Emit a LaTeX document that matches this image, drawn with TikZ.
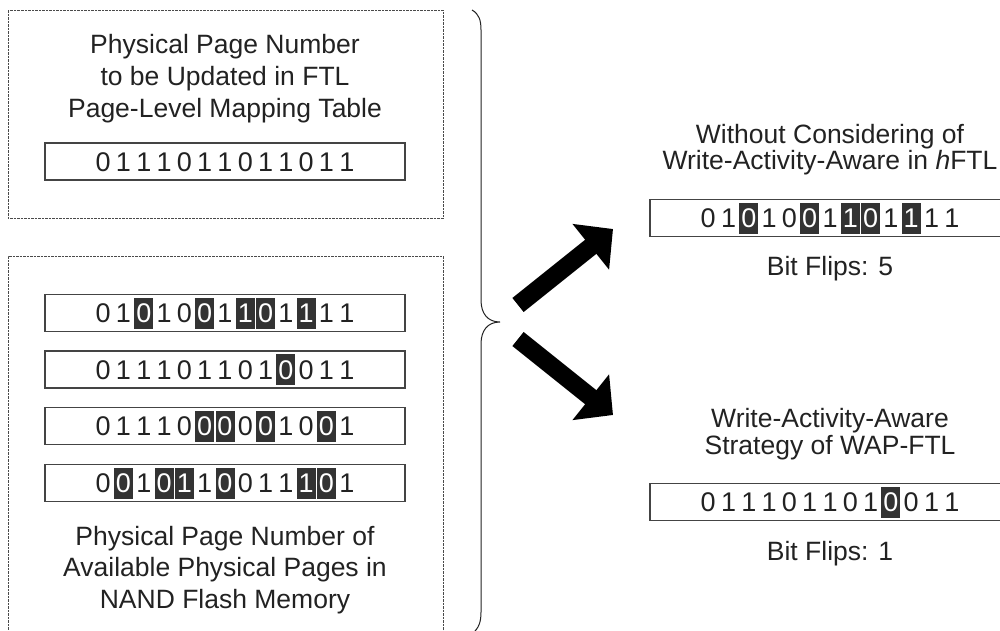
\documentclass[tikz,border=0pt]{standalone}
\usepackage{fontspec}
\setmainfont{Liberation Sans}
\usetikzlibrary{arrows.meta}

\definecolor{ink}{HTML}{222222}
\definecolor{flipink}{HTML}{333333}
\definecolor{frameink}{HTML}{444444}
\definecolor{dotink}{HTML}{4A4A4A}

\tikzset{
  lbl/.style={anchor=base, inner sep=0pt, text=ink, font=\fontsize{26.5}{32}\selectfont},
  bitrow/.style={draw=frameink, line width=1.1pt, minimum width=360pt, minimum height=37pt, inner sep=0pt},
  region/.style={draw=dotink, line width=0.8pt, dash pattern=on 2.5pt off 1pt},
  bitdigit/.style={anchor=base, inner sep=0pt, text=ink, font=\fontsize{27}{30}\selectfont},
  bigarrow/.style={line width=18pt, black, -{Triangle[width=57pt,length=28.5pt]}},
  bracket/.style={draw=ink, line width=1pt}
}

% #1 name, #2 centre x, #3 centre y, #4 list of digit/flipped pairs
\newcommand\bitstring[4]{%
  \node[bitrow] (#1) at (#2,#3) {};
  \foreach \d/\h [count=\i from 0] in {#4} {
    \pgfmathsetmacro\dx{#2+(\i-6)*20.3}
    \ifnum\h=1
      \fill[flipink] (\dx-9.5,#3-15.5) rectangle (\dx+9.5,#3+15.5);
      \node[bitdigit,text=white] (#1-\i) at (\dx,#3+9.8) {\d};
    \else
      \node[bitdigit] (#1-\i) at (\dx,#3+9.8) {\d};
    \fi
  }
}

\begin{document}
\begin{tikzpicture}[x=1pt,y=-1pt]
\useasboundingbox (0,0) rectangle (1000,630);

% dotted regions on the left
\draw[region] (8,10) rectangle (443,218);
\draw[region] (8,640) -- (8,256) -- (443,256) -- (443,640);

% page to be updated
\node[lbl] (t1) at (225,53.5) {Physical Page Number};
\node[lbl] (t2) at (225,85.3) {to be Updated in FTL};
\node[lbl] (t3) at (225,117.3) {Page-Level Mapping Table};
\bitstring{target}{225}{161.5}{0/0,1/0,1/0,1/0,0/0,1/0,1/0,0/0,1/0,1/0,0/0,1/0,1/0}

% available physical pages
\bitstring{cand1}{225}{313}{0/0,1/0,0/1,1/0,0/0,0/1,1/0,1/1,0/1,1/0,1/1,1/0,1/0}
\bitstring{cand2}{225}{369.5}{0/0,1/0,1/0,1/0,0/0,1/0,1/0,0/0,1/0,0/1,0/0,1/0,1/0}
\bitstring{cand3}{225}{426}{0/0,1/0,1/0,1/0,0/0,0/1,0/1,0/0,0/1,1/0,0/0,0/1,1/0}
\bitstring{cand4}{225}{483}{0/0,0/1,1/0,0/1,1/1,1/0,0/1,0/0,1/0,1/0,1/1,0/1,1/0}
\node[lbl] (c1) at (225,545) {Physical Page Number of};
\node[lbl] (c2) at (225,576.7) {Available Physical Pages in};
\node[lbl] (c3) at (225,608.3) {NAND Flash Memory};

% curly bracket
\coordinate (fork) at (500,322);
\draw[bracket] (472,10) .. controls (479,14) and (481,20) .. (481,30)
  -- (481,300) .. controls (481,314) and (488,322) .. (fork)
  .. controls (488,322) and (481,330) .. (481,344)
  -- (481,612) .. controls (481,622) and (479,628) .. (472,634);

% outcome without write-activity awareness
\node[lbl] (h1) at (830,143.3) {Without Considering of};
\node[lbl] (h2) at (830,169.6) {Write-Activity-Aware in \textit{h}FTL};
\bitstring{hftl}{830}{218}{0/0,1/0,0/1,1/0,0/0,0/1,1/0,1/1,0/1,1/0,1/1,1/0,1/0}
\node[lbl] (hf) at (830,275) {Bit Flips: 5};

% outcome with the write-activity-aware strategy
\node[lbl] (w1) at (830,427.3) {Write-Activity-Aware};
\node[lbl] (w2) at (830,454) {Strategy of WAP-FTL};
\bitstring{wap}{830}{502}{0/0,1/0,1/0,1/0,0/0,1/0,1/0,0/0,1/0,0/1,0/0,1/0,1/0}
\node[lbl] (wf) at (830,560) {Bit Flips: 1};

% thick arrows
\coordinate (upfrom) at (518,305);
\coordinate (upto) at (613,229);
\coordinate (downfrom) at (518,339);
\coordinate (downto) at (613,415);
\draw[bigarrow] (upfrom) -- (upto);
\draw[bigarrow] (downfrom) -- (downto);
\end{tikzpicture}
\end{document}
